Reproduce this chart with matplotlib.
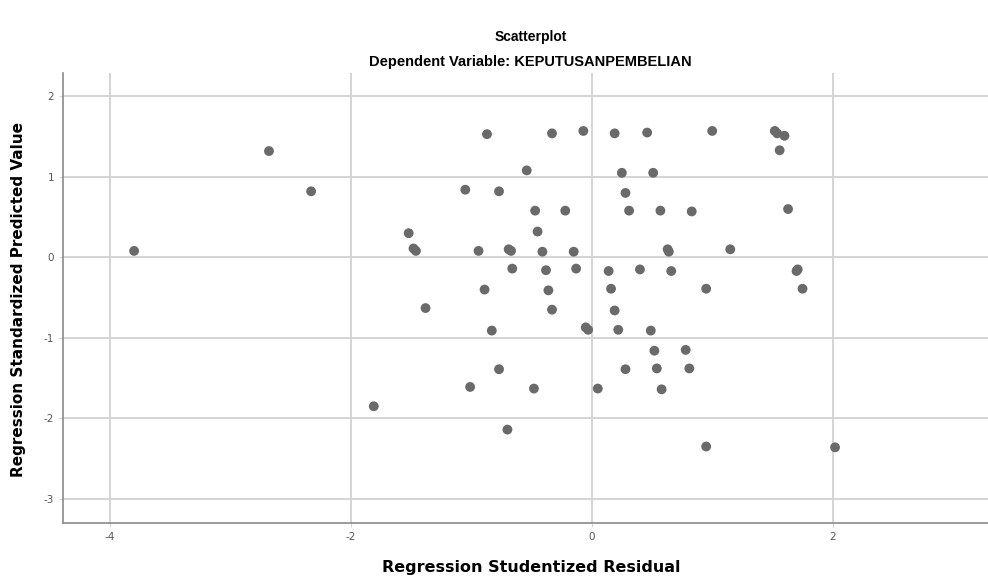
import matplotlib
matplotlib.use("Agg")
import matplotlib.pyplot as plt

plt.rcParams["axes.unicode_minus"] = False

# studentized residual (x) vs standardized predicted value (y)
residual = [
    -3.80, -2.68, -2.33, -1.81, -1.52, -1.48, -1.46, -1.38, -1.05, -1.01,
    -0.94, -0.89, -0.87, -0.83, -0.77, -0.77, -0.70, -0.69, -0.67, -0.66,
    -0.54, -0.48, -0.47, -0.45, -0.41, -0.38, -0.36, -0.33, -0.33, -0.22,
    -0.15, -0.13, -0.07, -0.05, -0.03, 0.05, 0.14, 0.16, 0.19, 0.19,
    0.22, 0.25, 0.28, 0.28, 0.31, 0.40, 0.46, 0.49, 0.51, 0.52,
    0.54, 0.57, 0.58, 0.63, 0.64, 0.66, 0.78, 0.81, 0.83, 0.95,
    0.95, 1.00, 1.15, 1.52, 1.54, 1.60, 1.56, 1.63, 1.70, 1.71,
    1.75, 2.02,
]
predicted = [
    0.08, 1.32, 0.82, -1.85, 0.30, 0.11, 0.08, -0.63, 0.84, -1.61,
    0.08, -0.40, 1.53, -0.91, 0.82, -1.39, -2.14, 0.10, 0.08, -0.14,
    1.08, -1.63, 0.58, 0.32, 0.07, -0.16, -0.41, 1.54, -0.65, 0.58,
    0.07, -0.14, 1.57, -0.87, -0.90, -1.63, -0.17, -0.39, 1.54, -0.66,
    -0.90, 1.05, 0.80, -1.39, 0.58, -0.15, 1.55, -0.91, 1.05, -1.16,
    -1.38, 0.58, -1.64, 0.10, 0.07, -0.17, -1.15, -1.38, 0.57, -0.39,
    -2.35, 1.57, 0.10, 1.57, 1.54, 1.51, 1.33, 0.60, -0.17, -0.15,
    -0.39, -2.36,
]

x_ticks = [-4, -2, 0, 2]
y_ticks = [-3, -2, -1, 0, 1, 2]

fig = plt.figure(figsize=(9.88, 5.82), dpi=100)
ax = fig.add_axes([0.0638, 0.1014, 0.9362, 0.7732])

ax.scatter(residual, predicted, s=50, color="#6a6a6a", edgecolors="none", zorder=3)

ax.set_xlim(-4.39, 3.29)
ax.set_ylim(-3.30, 2.29)
ax.set_xticks(x_ticks)
ax.set_yticks(y_ticks)
ax.grid(True, color="#d4d4d4", linewidth=1.4, zorder=0)
ax.set_axisbelow(True)

for side in ["top", "right"]:
    ax.spines[side].set_visible(False)
for side in ["left", "bottom"]:
    ax.spines[side].set_color("#8a8a8a")
    ax.spines[side].set_linewidth(1.2)

ax.tick_params(axis="both", length=3, color="#d4d4d4", labelsize=7.5, labelcolor="#555555")

ax.set_xlabel("Regression Studentized Residual", fontsize=11.5, fontweight="bold")
ax.set_ylabel("Regression Standardized Predicted Value", fontsize=11, fontweight="bold")
ax.xaxis.set_label_coords(0.506, -0.082)
ax.yaxis.set_label_coords(-0.040, 0.496)

fig.text(0.537, 0.936, "Scatterplot", ha="center", va="center", fontsize=10, fontweight="bold",
         family="Liberation Sans")
fig.text(0.537, 0.893, "Dependent Variable: KEPUTUSANPEMBELIAN", ha="center", va="center",
         fontsize=10.5, fontweight="bold", family="Liberation Sans")

fig.savefig("out.png", dpi=100)
